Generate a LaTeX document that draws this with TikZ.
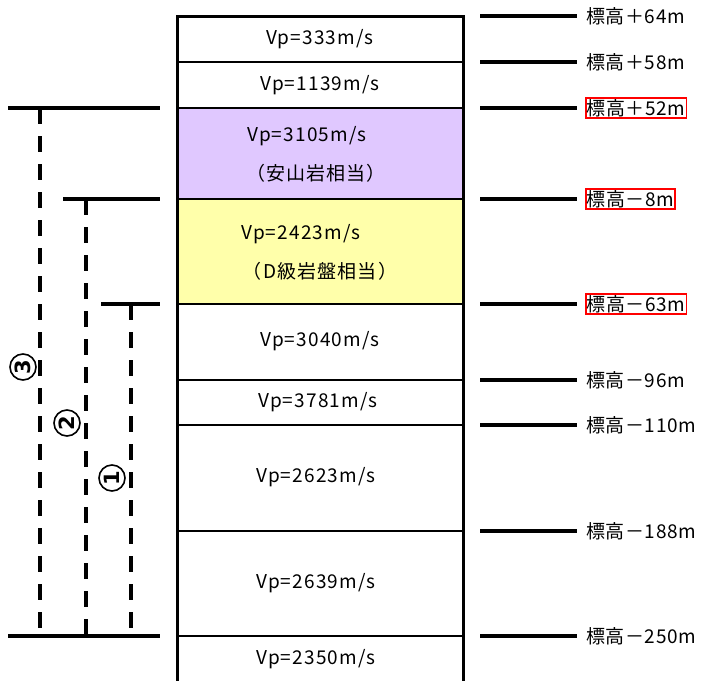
\documentclass[tikz,border=0pt]{standalone}
\usepackage{fontspec}
\setmainfont{Noto Sans CJK JP}
\newfontfamily\numfont{DejaVu Sans}
\newfontfamily\velfont[LetterSpace=6]{Noto Sans CJK JP}
\newfontfamily\elevfont[LetterSpace=3]{Noto Sans CJK JP}
\definecolor{lav}{RGB}{224,200,255}
\definecolor{paleyel}{RGB}{255,255,170}
\tikzset{
  layer/.style={draw=black, line width=2.5pt},
  border/.style={draw=black, line width=3pt},
  vel/.style={font=\velfont\fontsize{19}{21}\selectfont, inner sep=0pt},
  elev/.style={anchor=west, font=\elevfont\fontsize{19}{21}\selectfont, inner sep=1pt},
  redbox/.style={draw=red, line width=1.5pt},
  tick/.style={line width=4pt},
  rangebar/.style={line width=4pt},
  rangedash/.style={line width=4pt, dash pattern=on 16pt off 12pt},
  circnum/.style={circle, draw=black, fill=white, line width=1.6pt, minimum size=26pt, inner sep=0pt, font=\numfont\bfseries\fontsize{21}{22}\selectfont}
}
\begin{document}
\begin{tikzpicture}[x=1pt, y=-1pt]
\useasboundingbox (0,0) rectangle (706,680);
% layers
\fill[lav] (177,108) rectangle (463,199);
\fill[paleyel] (177,199) rectangle (463,304);
\foreach \yy in {62,108,199,304,380,425,531,636}{
  \draw[layer] (177,\yy) -- (463,\yy);
}
\draw[border] (177,681) -- (177,16) -- (463,16) -- (463,681);
% velocity texts
\node[vel] (v1) at (320,39) {Vp=333m/s};
\node[vel] (v2) at (320,85) {Vp=1139m/s};
\node[vel] (v3) at (307,136) {Vp=3105m/s};
\node[vel] (v3b) at (316,173) {（安山岩相当）};
\node[vel] (v4) at (301,234) {Vp=2423m/s};
\node[vel] (v4b) at (320,271) {（D級岩盤相当）};
\node[vel] (v5) at (320,341) {Vp=3040m/s};
\node[vel] (v6) at (318,402) {Vp=3781m/s};
\node[vel] (v7) at (316,477) {Vp=2623m/s};
\node[vel] (v8) at (316,583) {Vp=2639m/s};
\node[vel] (v9) at (316,659) {Vp=2350m/s};
% elevation ticks and labels
\foreach \yy/\nm in {16/a,62/b,108/c,199/d,304/e,380/f,425/g,531/h,636/i}{
  \coordinate (t\nm s) at (480,\yy);
  \coordinate (t\nm e) at (577,\yy);
  \draw[tick] (t\nm s) -- (t\nm e);
}
\node[elev] (la) at (585,16) {標高＋64m};
\node[elev] (lb) at (585,62) {標高＋58m};
\node[elev, redbox] (lc) at (585,108) {標高＋52m};
\node[elev, redbox] (ld) at (585,199) {標高－8m};
\node[elev, redbox] (le) at (585,304) {標高－63m};
\node[elev] (lf) at (585,380) {標高－96m};
\node[elev] (lg) at (585,425) {標高－110m};
\node[elev] (lh) at (585,531) {標高－188m};
\node[elev] (li) at (585,636) {標高－250m};
% ranges
\coordinate (r3a) at (8,108);   \coordinate (r3b) at (160,108);
\coordinate (r2a) at (63,199);  \coordinate (r2b) at (160,199);
\coordinate (r1a) at (101,304); \coordinate (r1b) at (160,304);
\coordinate (rba) at (8,636);   \coordinate (rbb) at (160,636);
\draw[rangebar] (r3a) -- (r3b);
\draw[rangebar] (r2a) -- (r2b);
\draw[rangebar] (r1a) -- (r1b);
\draw[rangebar] (rba) -- (rbb);
\coordinate (d3t) at (40,108);  \coordinate (d3b) at (40,636);
\coordinate (d2t) at (86,199);  \coordinate (d2b) at (86,636);
\coordinate (d1t) at (131,304); \coordinate (d1b) at (131,636);
\draw[rangedash] (d3t) -- (d3b);
\draw[rangedash] (d2t) -- (d2b);
\draw[rangedash] (d1t) -- (d1b);
\node[circnum] (c3) at (23,367) {\rotatebox{90}{3}};
\node[circnum] (c2) at (67,423) {\rotatebox{90}{2}};
\node[circnum] (c1) at (112,478) {\rotatebox{90}{1}};
\end{tikzpicture}
\end{document}
